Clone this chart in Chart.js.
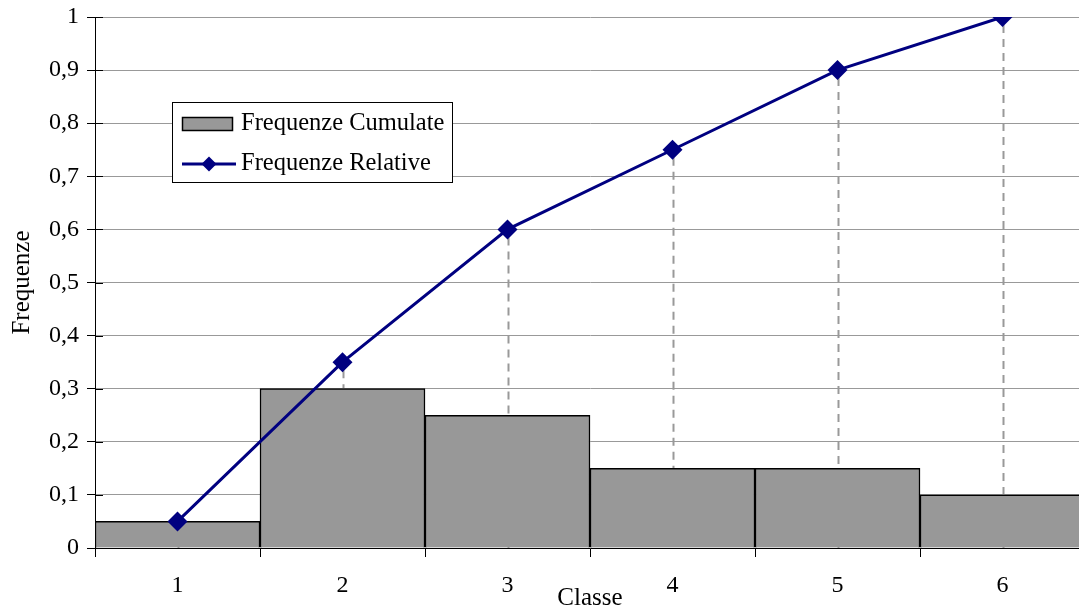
<!DOCTYPE html>
<html>
<head>
<meta charset="utf-8">
<script src="https://cdn.jsdelivr.net/npm/chart.js@4/dist/chart.umd.min.js"></script>
<style>
  html, body { margin: 0; background: #fff; overflow: hidden; }
  #wrap { width: 1079px; height: 610px; overflow: hidden; }
</style>
</head>
<body>
<!-- the plot runs a few pixels past the right edge of the picture, so the canvas is a bit wider than the view -->
<div id="wrap"><canvas id="chart-canvas" width="1085" height="610"></canvas></div>
<script>
'use strict';
// data
var classes = ['1', '2', '3', '4', '5', '6'];
var cumulateValues = [0.05, 0.3, 0.25, 0.15, 0.15, 0.1];   // grey bars
var relativeValues = [0.05, 0.35, 0.6, 0.75, 0.9, 1];      // navy line
var yTicks = [0, 0.1, 0.2, 0.3, 0.4, 0.5, 0.6, 0.7, 0.8, 0.9, 1];

var serif = '"Liberation Serif", "Times New Roman", serif';
var barGrey = '#989898';
var navy = '#000080';

// dashed drop lines from each point down to the axis, behind the bars
var dropLines = {
    id: 'dropLines',
    beforeDatasetsDraw: function (chart) {
        var ctx = chart.ctx;
        var x = chart.scales.x;
        var y = chart.scales.y;
        ctx.save();
        ctx.strokeStyle = '#999999';
        ctx.lineWidth = 2;
        ctx.setLineDash([8, 6]);
        for (var i = 0; i < relativeValues.length; i++) {
            var px = Math.round(x.getPixelForValue(i)) + 0.5;
            ctx.beginPath();
            ctx.moveTo(px, y.getPixelForValue(relativeValues[i]) + 8);
            ctx.lineTo(px, y.getPixelForValue(0));
            ctx.stroke();
        }
        ctx.restore();
    }
};

// crossing tick marks on the y axis (the inner half) and the boxed legend
var extras = {
    id: 'extras',
    afterDraw: function (chart) {
        var ctx = chart.ctx;
        var y = chart.scales.y;
        var left = chart.chartArea.left;
        ctx.save();
        ctx.strokeStyle = '#000';
        ctx.lineWidth = 1;
        for (var i = 0; i < yTicks.length; i++) {
            var py = Math.round(y.getPixelForValue(yTicks[i])) + 0.5;
            ctx.beginPath();
            ctx.moveTo(left, py);
            ctx.lineTo(left + 8, py);
            ctx.stroke();
        }

        // legend
        var bars = chart.data.datasets[1];
        var line = chart.data.datasets[0];
        ctx.fillStyle = '#fff';
        ctx.fillRect(172, 102, 280, 80);
        ctx.strokeRect(172.5, 102.5, 280, 80);

        ctx.fillStyle = bars.backgroundColor;
        ctx.fillRect(182, 117, 51, 14);
        ctx.lineWidth = 1.5;
        ctx.strokeRect(182.5, 117.5, 50, 13);

        ctx.strokeStyle = line.borderColor;
        ctx.lineWidth = 3;
        ctx.beginPath();
        ctx.moveTo(182, 164);
        ctx.lineTo(236, 164);
        ctx.stroke();
        ctx.fillStyle = line.borderColor;
        ctx.beginPath();
        ctx.moveTo(209, 156.5);
        ctx.lineTo(216.5, 164);
        ctx.lineTo(209, 171.5);
        ctx.lineTo(201.5, 164);
        ctx.closePath();
        ctx.fill();

        ctx.fillStyle = '#000';
        ctx.font = '24.5px ' + serif;
        ctx.textBaseline = 'middle';
        ctx.textAlign = 'left';
        ctx.fillText(bars.label, 241, 124);
        ctx.fillText(line.label, 241, 164);
        ctx.restore();
    }
};

var chartCanvas = document.getElementById('chart-canvas').getContext('2d');
new Chart(chartCanvas, {
    type: 'bar',
    data: {
        labels: classes,
        datasets: [{
            type: 'line',
            label: 'Frequenze Relative',
            data: relativeValues,
            borderColor: navy,
            backgroundColor: navy,
            borderWidth: 3,
            tension: 0,
            pointStyle: 'rectRot',
            pointRadius: 10,
            pointBorderWidth: 0,
            order: 0
        }, {
            label: 'Frequenze Cumulate',
            data: cumulateValues,
            backgroundColor: barGrey,
            borderColor: '#000',
            borderWidth: 1.5,
            barPercentage: 1,
            categoryPercentage: 1,
            order: 1
        }]
    },
    options: {
        responsive: false,
        animation: false,
        layout: { padding: 0, autoPadding: false },
        plugins: {
            legend: { display: false },
            tooltip: { enabled: false }
        },
        scales: {
            x: {
                offset: true,
                grid: {
                    offset: true,
                    drawOnChartArea: false,
                    drawTicks: true,
                    tickLength: 9,
                    tickColor: '#000'
                },
                border: { color: '#000', width: 1 },
                ticks: {
                    color: '#000',
                    padding: 14,
                    maxRotation: 0,
                    font: { family: serif, size: 24 }
                },
                title: {
                    display: true,
                    text: 'Classe',
                    color: '#000',
                    padding: { top: 0, bottom: -3 },
                    font: { family: serif, size: 25 }
                },
                afterFit: function (scale) {
                    scale.height = 62;
                    scale.paddingLeft = 0;
                    scale.paddingRight = 0;
                }
            },
            y: {
                min: 0,
                max: 1,
                afterBuildTicks: function (scale) {
                    scale.ticks = yTicks.map(function (v) { return { value: v }; });
                },
                grid: {
                    color: '#999999',
                    lineWidth: 1,
                    tickLength: 8,
                    tickColor: '#000'
                },
                border: { color: '#000', width: 1 },
                ticks: {
                    color: '#000',
                    padding: 8,
                    font: { family: serif, size: 24 },
                    callback: function (value) {
                        return String(Math.round(value * 10) / 10).replace('.', ',');
                    }
                },
                title: {
                    display: true,
                    text: 'Frequenze',
                    color: '#000',
                    padding: { top: 7, bottom: 0 },
                    font: { family: serif, size: 25 }
                },
                afterFit: function (scale) {
                    scale.width = 95;
                    scale.paddingTop = 17;
                    scale.paddingBottom = 0;
                }
            }
        }
    },
    plugins: [dropLines, extras]
});
</script>
</body>
</html>
